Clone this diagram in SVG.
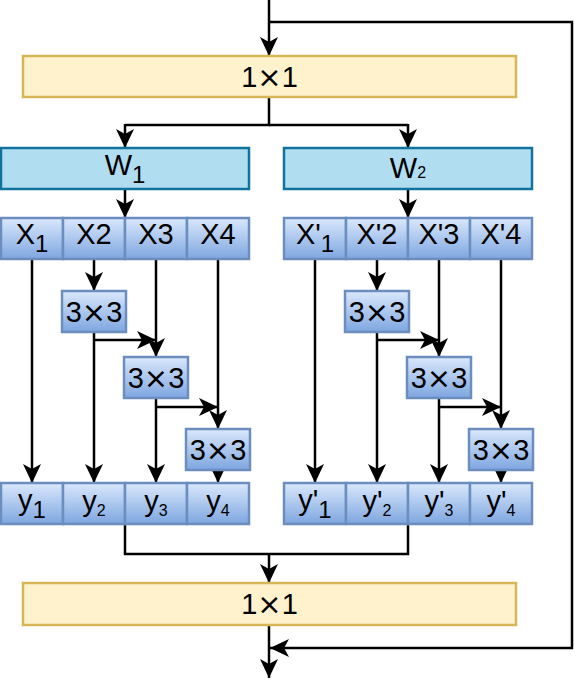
<svg xmlns="http://www.w3.org/2000/svg" width="574" height="680" viewBox="0 0 574 680">
<defs>
<linearGradient id="gb" x1="0" y1="0" x2="0" y2="1">
<stop offset="0" stop-color="#dae8fc"/>
<stop offset="1" stop-color="#7ea6e0"/>
</linearGradient>
<marker id="ar" markerUnits="userSpaceOnUse" markerWidth="22" markerHeight="20" refX="19" refY="9" orient="auto">
<path d="M0,0 L19,9 L0,18 L5,9 Z" fill="#000"/>
</marker>
<style>
.y1{fill:#fff2cc;stroke:#d6b656;stroke-width:2.5}
.w{fill:#b1ddf0;stroke:#10739e;stroke-width:2.5}
.c{fill:url(#gb);stroke:#6c8ebf;stroke-width:2.5}
.t{font-family:"Liberation Sans",Arial,sans-serif;font-size:29px;text-anchor:middle;fill:#000}
.x{font-family:"DejaVu Sans",sans-serif}
.l{fill:none;stroke:#000;stroke-width:2.5}
.a{fill:none;stroke:#000;stroke-width:2.5;marker-end:url(#ar)}
</style>
</defs>
<g id="connectors">
<path class="a" d="M269,0 V56"/>
<path class="a" d="M269,22 H572 V648 H270"/>
<path class="l" d="M269,97 V125 H125"/>
<path class="a" d="M125,124 V148"/>
<path class="l" d="M269,125 H408"/>
<path class="a" d="M408,124 V148"/>
<path class="a" d="M125,189 V218"/>
<path class="a" d="M408,189 V218"/>
<path class="a" d="M32,259 V483"/>
<path class="a" d="M94,259 V291"/>
<path class="a" d="M94,332 V483"/>
<path class="a" d="M94,340 H156"/>
<path class="a" d="M156,259 V357"/>
<path class="a" d="M156,398 V483"/>
<path class="a" d="M156,407 H218"/>
<path class="a" d="M218,259 V429"/>
<path class="a" d="M218,471 V483"/>
<path class="a" d="M315,259 V483"/>
<path class="a" d="M377,259 V291"/>
<path class="a" d="M377,332 V483"/>
<path class="a" d="M377,340 H439"/>
<path class="a" d="M439,259 V357"/>
<path class="a" d="M439,398 V483"/>
<path class="a" d="M439,407 H501"/>
<path class="a" d="M501,259 V429"/>
<path class="a" d="M501,471 V483"/>
<path class="l" d="M125,524 V554 H408 V524"/>
<path class="a" d="M269,554 V583"/>
<path class="a" d="M269,625 V678"/>
</g>
<g id="conv1x1_top"><rect class="y1" x="23" y="56" width="493" height="41"/><text class="t" x="269.5" y="87" font-size="27">1<tspan class="x">×</tspan>1</text></g>
<g id="W1"><rect class="w" x="1" y="148" width="248" height="41"/><text class="t" x="125" y="175">W<tspan font-size="24" dy="8">1</tspan></text></g>
<g id="W2"><rect class="w" x="284" y="148" width="248" height="41"/><text class="t" x="408" y="178">W<tspan font-size="16">2</tspan></text></g>
<g id="X1"><rect class="c" x="1" y="218" width="62" height="41"/><text class="t" x="32" y="244">X<tspan font-size="24" dy="8">1</tspan></text></g>
<g id="X2"><rect class="c" x="63" y="218" width="62" height="41"/><text class="t" x="94" y="244">X2</text></g>
<g id="X3"><rect class="c" x="125" y="218" width="62" height="41"/><text class="t" x="156" y="244">X3</text></g>
<g id="X4"><rect class="c" x="187" y="218" width="62" height="41"/><text class="t" x="218" y="244">X4</text></g>
<g id="Xp1"><rect class="c" x="284" y="218" width="62" height="41"/><text class="t" x="315" y="244">X'<tspan font-size="24" dy="8">1</tspan></text></g>
<g id="Xp2"><rect class="c" x="346" y="218" width="62" height="41"/><text class="t" x="377" y="244">X'2</text></g>
<g id="Xp3"><rect class="c" x="408" y="218" width="62" height="41"/><text class="t" x="439" y="244">X'3</text></g>
<g id="Xp4"><rect class="c" x="470" y="218" width="62" height="41"/><text class="t" x="501" y="244">X'4</text></g>
<g id="K1"><rect class="c" x="62" y="291" width="64" height="41"/><text class="t" x="94" y="322">3<tspan class="x">×</tspan>3</text></g>
<g id="K2"><rect class="c" x="124" y="357" width="64" height="41"/><text class="t" x="156" y="388">3<tspan class="x">×</tspan>3</text></g>
<g id="K3"><rect class="c" x="186" y="429" width="64" height="41"/><text class="t" x="218" y="460">3<tspan class="x">×</tspan>3</text></g>
<g id="Kp1"><rect class="c" x="345" y="291" width="64" height="41"/><text class="t" x="377" y="322">3<tspan class="x">×</tspan>3</text></g>
<g id="Kp2"><rect class="c" x="407" y="357" width="64" height="41"/><text class="t" x="439" y="388">3<tspan class="x">×</tspan>3</text></g>
<g id="Kp3"><rect class="c" x="469" y="429" width="64" height="41"/><text class="t" x="501" y="460">3<tspan class="x">×</tspan>3</text></g>
<g id="Y1"><rect class="c" x="1" y="483" width="62" height="41"/><text class="t" x="32" y="510">y<tspan font-size="24" dy="8">1</tspan></text></g>
<g id="Y2"><rect class="c" x="63" y="483" width="62" height="41"/><text class="t" x="94" y="511">y<tspan font-size="16" dy="5">2</tspan></text></g>
<g id="Y3"><rect class="c" x="125" y="483" width="62" height="41"/><text class="t" x="156" y="511">y<tspan font-size="16" dy="5">3</tspan></text></g>
<g id="Y4"><rect class="c" x="187" y="483" width="62" height="41"/><text class="t" x="218" y="511">y<tspan font-size="16" dy="5">4</tspan></text></g>
<g id="Yp1"><rect class="c" x="284" y="483" width="62" height="41"/><text class="t" x="315" y="510">y'<tspan font-size="24" dy="8">1</tspan></text></g>
<g id="Yp2"><rect class="c" x="346" y="483" width="62" height="41"/><text class="t" x="377" y="511">y'<tspan font-size="16" dy="5">2</tspan></text></g>
<g id="Yp3"><rect class="c" x="408" y="483" width="62" height="41"/><text class="t" x="439" y="511">y'<tspan font-size="16" dy="5">3</tspan></text></g>
<g id="Yp4"><rect class="c" x="470" y="483" width="62" height="41"/><text class="t" x="501" y="511">y'<tspan font-size="16" dy="5">4</tspan></text></g>
<g id="conv1x1_bottom"><rect class="y1" x="23" y="583" width="493" height="42"/><text class="t" x="269.5" y="614" font-size="27">1<tspan class="x">×</tspan>1</text></g>
</svg>
